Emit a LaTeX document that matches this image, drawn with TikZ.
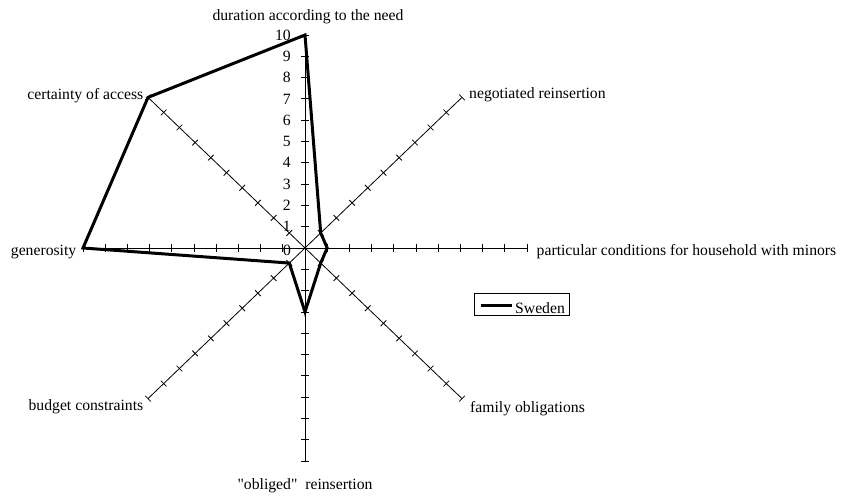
\documentclass[tikz,border=0pt]{standalone}
\usepackage{fontspec}
\setmainfont{Liberation Serif}[Ligatures=TeXOff]
\begin{document}
\begin{tikzpicture}[x=1pt,y=-1pt,
  axisline/.style={line width=0.8pt, black},
  tickmark/.style={line width=0.8pt, black},
  series/.style={line width=3pt, black, line join=miter},
  lbl/.style={font=\fontsize{15.7}{18}\selectfont, inner sep=0pt},
  numlbl/.style={font=\fontsize{15.7}{18}\selectfont, inner sep=0pt, anchor=east}]
\useasboundingbox (0,0) rectangle (841,497);
\def\cx{305}\def\cy{248}\def\ux{22.2}\def\uy{21.3}
\coordinate (o) at (\cx,\cy);
% radar axes with cross ticks at every unit
\foreach \ang/\nm in {90/a, 45/b, 0/c, -45/d, -90/e, -135/f, 180/g, 135/h} {
  \coordinate (\nm end) at ({\cx+10*\ux*cos(\ang)},{\cy-10*\uy*sin(\ang)});
  \draw[axisline] (o) -- (\nm end);
  \foreach \v in {1,...,10} {
    \draw[tickmark]
      ({\cx+\v*\ux*cos(\ang)-4*sin(\ang)},{\cy-\v*\uy*sin(\ang)-4*cos(\ang)}) --
      ({\cx+\v*\ux*cos(\ang)+4*sin(\ang)},{\cy-\v*\uy*sin(\ang)+4*cos(\ang)});
  }
}
% scale numbers on the vertical axis
\foreach \v in {1,...,10} {
  \node[numlbl] (n\v) at (291,{\cy-\v*\uy}) {\v};
}
\node[lbl] (n0) at (287,250) {0};
% axis captions
\node[lbl, anchor=base] (la) at (308,21) {duration according to the need};
\node[lbl, anchor=west] (lb) at (469,95) {negotiated reinsertion};
\node[lbl, anchor=base west] (lc) at (536.5,256) {particular conditions for household with minors};
\node[lbl, anchor=base west] (ld) at (470,412.5) {family obligations};
\node[lbl, anchor=base] (le) at (305,489) {"obliged"\ \ reinsertion};
\node[lbl, anchor=base east] (lf) at (143.5,410.5) {budget constraints};
\node[lbl, anchor=base east] (lg) at (76.5,256) {generosity};
\node[lbl, anchor=base east] (lh) at (143.5,100) {certainty of access};
% data series
\foreach \ang/\nm/\val in {90/a/10, 45/b/1, 0/c/1, -45/d/1, -90/e/3, -135/f/1, 180/g/10, 135/h/10} {
  \coordinate (p\nm) at ({\cx+\val*\ux*cos(\ang)},{\cy-\val*\uy*sin(\ang)});
}
\draw[series] (pa) -- (pb) -- (pc) -- (pd) -- (pe) -- (pf) -- (pg) -- (ph) -- cycle;
% legend
\node[draw, line width=0.8pt, minimum width=94.7pt, minimum height=22.4pt, inner sep=0pt] (leg) at (521.6,304.5) {};
\coordinate (ls) at (480.7,305);
\coordinate (le2) at (511.7,305);
\draw[series] (ls) -- (le2);
\node[lbl, anchor=base west] (lgt) at (515,313.3) {Sweden};
\end{tikzpicture}
\end{document}
